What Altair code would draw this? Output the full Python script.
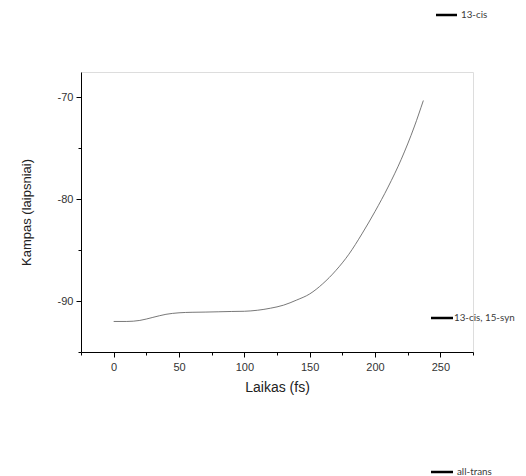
import altair as alt
import pandas as pd

# Data
time_fs = [0, 10, 20, 30, 40, 50, 60, 70, 80, 90, 100, 110, 120, 130, 140, 150,
           160, 170, 180, 190, 200, 210, 220, 230, 237]
angle_deg = [-92.0, -92.0, -91.9, -91.6, -91.3, -91.15, -91.1, -91.08, -91.05, -91.02,
             -91.0, -90.9, -90.7, -90.4, -89.9, -89.3, -88.3, -87.0, -85.4, -83.4,
             -81.2, -78.8, -76.1, -72.9, -70.3]
x_major_ticks = [0, 50, 100, 150, 200, 250]
x_minor_ticks = [-25, 25, 75, 125, 175, 225, 275]
y_major_ticks = [-90, -80, -70]
y_minor_ticks = [-95, -85, -75]
side_labels = ["13-cis", "13-cis, 15-syn", "all-trans"]

df = pd.DataFrame({"t": time_fs, "a": angle_deg})
one = pd.DataFrame({"k": [0]})

W, H = 392, 280
xs = alt.Scale(domain=[-25, 275], nice=False, zero=False)
ys = alt.Scale(domain=[-95, -67.5], nice=False, zero=False)

axis_common = dict(domainColor="black", domainWidth=1, tickColor="black", tickWidth=1,
                   labelFont="Liberation Sans", labelFontSize=11, labelColor="#333",
                   titleFont="Liberation Sans", titleFontWeight="normal", titleColor="#222",
                   grid=False, labelExpr="'' + datum.value")

x_major = alt.Axis(values=x_major_ticks, tickSize=5, labelPadding=4, title="Laikas (fs)",
                   titleFontSize=14, titlePadding=8, orient="bottom", **axis_common)
y_major = alt.Axis(values=y_major_ticks, tickSize=5, labelPadding=3,
                   title="Kampas (laipsniai)", titleFontSize=13, titlePadding=24,
                   orient="left", **axis_common)
x_minor = alt.Axis(values=x_minor_ticks, tickSize=3, labels=False, title=None, domain=False,
                   tickColor="black", grid=False, orient="bottom")
y_minor = alt.Axis(values=y_minor_ticks, tickSize=3, labels=False, title=None, domain=False,
                   tickColor="black", grid=False, orient="left")

line = alt.Chart(df).mark_line(color="#555", strokeWidth=0.8, interpolate="monotone").encode(
    x=alt.X("t:Q", scale=xs, axis=x_major),
    y=alt.Y("a:Q", scale=ys, axis=y_major),
)
minor = alt.Chart(df).mark_line(opacity=0).encode(
    x=alt.X("t:Q", scale=xs, axis=x_minor),
    y=alt.Y("a:Q", scale=ys, axis=y_minor),
)

# side labels (fragments of neighbouring panels)
pos = [(355, 376, -57, 380), (350, 372, 246, 373), (350, 372, 400, 376)]
deco = []
for lab, (x1, x2, yy, tx) in zip(side_labels, pos):
    deco.append(alt.Chart(one).mark_rule(color="black", strokeWidth=2.5).encode(
        x=alt.value(x1), x2=alt.value(x2), y=alt.value(yy)))
    deco.append(alt.Chart(one).mark_text(align="left", baseline="middle", font="Lato",
                                          fontSize=9.8, color="#3a3a3a").encode(
        x=alt.value(tx), y=alt.value(yy), text=alt.value(lab)))

chart = alt.layer(line, minor, *deco).resolve_axis(x="independent", y="independent").properties(
    width=W, height=H,
    autosize=alt.AutoSizeParams(type="none"),
    padding={"left": 73, "top": 64, "right": 45, "bottom": 124},
).configure_view(stroke=None).configure(background="white")

chart.save("out.html", embed_options={"renderer": "svg", "actions": False})
